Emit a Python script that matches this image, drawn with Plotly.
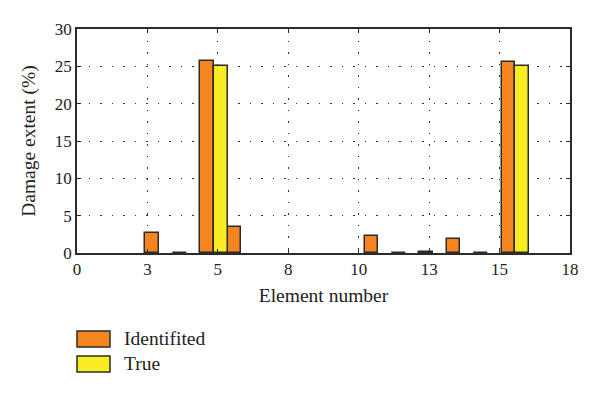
import plotly.graph_objects as go

# ---- data ----
elements = list(range(1, 18))
identified = [0, 0, 2.67, 0.05, 25.72, 3.52, 0, 0, 0, 0, 2.31, 0.03, 0.1, 1.87, 0.03, 25.54, 0]
true_vals = [0, 0, 0, 0, 25.0, 0, 0, 0, 0, 0, 0, 0, 0, 0, 0, 25.0, 0]
x_tickvals = [18 * k / 7 for k in range(8)]
x_ticktext = ["0", "3", "5", "8", "10", "13", "15", "18"]
y_tickvals = [0, 5, 10, 15, 20, 25, 30]
series_names = ["Identifited", "True"]
colors = ["#F6841F", "#F8EC22"]

FONT = "Liberation Serif"
EDGE = "#2b2b2b"
TXT = "#222222"


def nz(vals):
    # zero-valued bars are not drawn (no outline on the baseline)
    return [v if v > 0 else None for v in vals]


fig = go.Figure()
fig.add_trace(go.Bar(x=elements, y=nz(identified), width=0.5, offset=-0.5,
                     marker=dict(color=colors[0], line=dict(color=EDGE, width=1.5)),
                     name=series_names[0], showlegend=False))
fig.add_trace(go.Bar(x=elements, y=nz(true_vals), width=0.5, offset=0,
                     marker=dict(color=colors[1], line=dict(color=EDGE, width=1.5)),
                     name=series_names[1], showlegend=False))

grid = dict(showgrid=True, gridcolor="#333333", gridwidth=1.2, griddash="1.5px,10px")

fig.update_layout(
    width=592, height=386,
    margin=dict(l=69, r=30, t=21, b=141, autoexpand=False),
    paper_bgcolor="white", plot_bgcolor="white",
    barmode="overlay", bargap=0,
    font=dict(family=FONT, size=17, color=TXT),
    xaxis=dict(range=[0, 18], tickvals=x_tickvals, ticktext=x_ticktext,
               showline=True, linecolor=EDGE, linewidth=1.5, mirror="ticks",
               ticks="inside", ticklen=4, tickcolor=EDGE, zeroline=False,
               automargin=False,
               title=dict(text="Element number", font=dict(size=19.5), standoff=10),
               tickfont=dict(size=17), **grid),
    yaxis=dict(range=[0, 30], tickvals=y_tickvals,
               showline=True, linecolor=EDGE, linewidth=1.5, mirror="ticks",
               ticks="inside", ticklen=4, tickcolor=EDGE, zeroline=False,
               automargin=False,
               title=dict(text="Damage extent (%)", font=dict(size=19.5), standoff=14),
               tickfont=dict(size=17), **grid),
)

# ---- legend drawn below the plot (paper coords relative to plot area) ----
PL, PB, PW, PH = 77, 253, 493, 224
legend_rows = [(0, series_names[0], colors[0]), (1, series_names[1], colors[1])]
for row, name, col in legend_rows:
    y_top = 331 + row * 25
    fig.add_shape(type="rect", xref="paper", yref="paper",
                  x0=(77 - PL) / PW, x1=(110 - PL) / PW,
                  y0=(PB - (y_top + 16)) / PH, y1=(PB - y_top) / PH,
                  fillcolor=col, line=dict(color=EDGE, width=1.5))
    fig.add_annotation(xref="paper", yref="paper", x=(122 - PL) / PW,
                       y=(PB - (y_top + 7)) / PH,
                       text=name, showarrow=False, xanchor="left", yanchor="middle",
                       font=dict(family=FONT, size=19.5, color=TXT))

fig.write_html("out.html")
